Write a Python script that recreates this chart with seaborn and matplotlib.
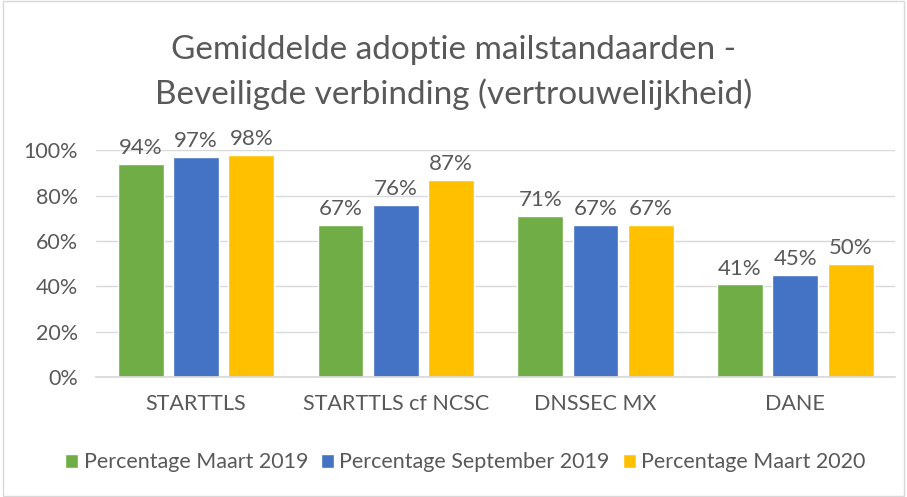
import matplotlib
matplotlib.use("Agg")
import matplotlib.pyplot as plt
import seaborn as sns
import pandas as pd
from matplotlib.patches import Rectangle

categories = ["STARTTLS", "STARTTLS cf NCSC", "DNSSEC MX", "DANE"]
series = ["Percentage Maart 2019", "Percentage September 2019", "Percentage Maart 2020"]
maart_2019 = [0.94, 0.67, 0.71, 0.41]
september_2019 = [0.97, 0.76, 0.67, 0.45]
maart_2020 = [0.98, 0.87, 0.67, 0.50]
colors = ["#70AD47", "#4472C4", "#FFC000"]

df = pd.DataFrame({
    "categorie": categories * 3,
    "reeks": [s for s in series for _ in categories],
    "waarde": maart_2019 + september_2019 + maart_2020,
})

sns.set_theme(style="white")
plt.rcParams["font.family"] = ["Lato", "DejaVu Sans"]
grey = "#595959"

fig = plt.figure(figsize=(9.07, 4.97), dpi=100)
ax = fig.add_axes([0.106, 0.241, 0.881, 0.457])

sns.barplot(data=df, x="categorie", y="waarde", hue="reeks", palette=colors,
            saturation=1, width=0.83, gap=0.17, ax=ax, legend=True)

for cont in ax.containers:
    ax.bar_label(cont, labels=[f"{v * 100:.0f}%" for v in cont.datavalues],
                 padding=4, fontsize=16, color=grey)

ax.set_ylim(0, 1.0)
ax.set_xlim(-0.5, 3.5)
ax.set_yticks([0, 0.2, 0.4, 0.6, 0.8, 1.0])
ax.set_yticklabels(["0%", "20%", "40%", "60%", "80%", "100%"], fontsize=15.5, color=grey)
ax.tick_params(axis="x", labelsize=15.5, labelcolor=grey, length=0, pad=12)
ax.tick_params(axis="y", length=0, pad=13)
ax.set_xlabel("")
ax.set_ylabel("")
ax.yaxis.grid(True, color="#D9D9D9", linewidth=1)
ax.set_axisbelow(True)
for s in ["top", "right", "left"]:
    ax.spines[s].set_visible(False)
ax.spines["bottom"].set_color("#D9D9D9")

ax.legend(loc="center", bbox_to_anchor=(0.462, -0.375), ncol=3, frameon=False,
          fontsize=15.5, labelcolor=grey, handlelength=0.6, handleheight=0.6,
          handletextpad=0.25, columnspacing=0.6)

fig.text(0.5, 0.90, "Gemiddelde adoptie mailstandaarden -", ha="center", va="center",
         fontsize=24, color=grey)
fig.text(0.5, 0.81, "Beveiligde verbinding (vertrouwelijkheid)", ha="center", va="center",
         fontsize=24, color=grey)

fig.patches.append(Rectangle((0.003, 0.003), 0.994, 0.994, transform=fig.transFigure,
                             fill=False, edgecolor="#D9D9D9", linewidth=1))

fig.savefig("out.png", dpi=100)
